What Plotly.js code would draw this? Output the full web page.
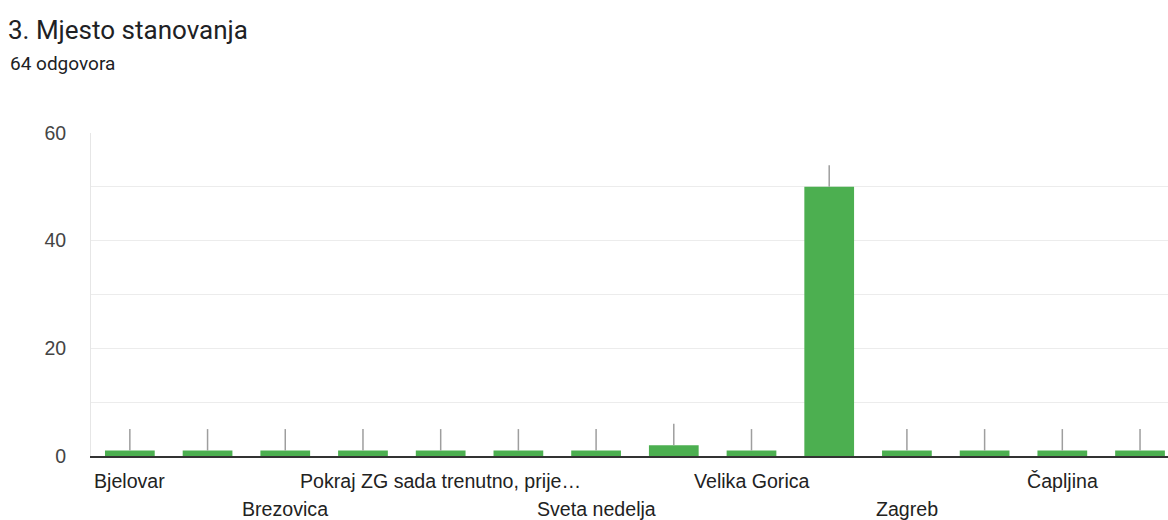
<!DOCTYPE html>
<html>
<head>
<meta charset="utf-8">
<script src="https://cdn.plot.ly/plotly-3.0.1.min.js"></script>
<style>html,body{margin:0;padding:0;background:#fff;}#chart{width:1168px;height:520px;}</style>
</head>
<body>
<div id="chart"></div>
<script>
// Categories (hidden labels unknown in reference; only alternate labels are displayed)
const categories = [
  "Bjelovar", "Bjelovar ", "Brezovica", "Ivanić-Grad",
  "Pokraj ZG sada trenutno, prije…", "Samobor", "Sveta nedelja", "Sveta Nedelja",
  "Velika Gorica", "Velika Gorica ", "Zagreb", "Zaprešić", "Čapljina", "Đakovo"
];
const values = [1, 1, 1, 1, 1, 1, 1, 2, 1, 50, 1, 1, 1, 1];
const stems = [4, 4, 4, 4, 4, 4, 4, 4, 4, 4, 4, 4, 4, 4];
const shownLabels = ["Bjelovar", "Brezovica", "Pokraj ZG sada trenutno, prije…", "Sveta nedelja", "Velika Gorica", "Zagreb", "Čapljina"];
const yTickVals = [0, 10, 20, 30, 40, 50, 60];
const yTickText = ["0", "", "20", "", "40", "", "60"];
const title = "3. Mjesto stanovanja";
const subtitle = "64 odgovora";

const font = "Roboto, Arial, sans-serif";
const axisFont = "'Liberation Sans', Arial, sans-serif";
const annotations = shownLabels.map((lab, i) => ({
  x: lab, xref: "x", y: 0, yref: "paper",
  yshift: (i % 2 === 0) ? -25 : -53,
  text: lab, showarrow: false, xanchor: "center", yanchor: "middle",
  font: {family: axisFont, size: 19.6, color: "#222"}
}));
annotations.push({
  text: subtitle, xref: "paper", x: (8 - 91) / 1077, xanchor: "left",
  yref: "paper", y: 1 + (133 - 64) / 323, yanchor: "middle",
  showarrow: false, font: {family: font, size: 19, color: "#202124"}
});

const trace = {
  type: "bar", x: categories, y: values,
  marker: {color: "#4caf50"}, width: 0.64,
  error_y: {type: "data", symmetric: false, array: stems, arrayminus: values.map(() => 0),
            color: "#9e9e9e", thickness: 1.5, width: 0},
  hoverinfo: "x+y"
};

const layout = {
  width: 1168, height: 520,
  margin: {l: 91, r: 0, t: 133, b: 64},
  paper_bgcolor: "#fff", plot_bgcolor: "#fff",
  showlegend: false,
  title: {text: title, x: 8 / 1168, xref: "container", xanchor: "left",
          y: 1 - 30 / 520, yref: "container", yanchor: "middle",
          font: {family: font, size: 26, color: "#202124"}},
  xaxis: {type: "category", range: [-0.5, 13.36], showticklabels: false,
          showline: true, linecolor: "#333", linewidth: 2, showgrid: false, ticks: "", fixedrange: true},
  yaxis: {range: [0, 60], tickvals: yTickVals, ticktext: yTickText,
          showgrid: true, gridcolor: "#ececec", gridwidth: 1, zeroline: false,
          showline: true, linecolor: "#e6e6e6", linewidth: 1, ticks: "",
          ticklabelstandoff: 20,
          tickfont: {family: axisFont, size: 19.5, color: "#444"}},
  annotations: annotations
};

Plotly.newPlot("chart", [trace], layout, {displayModeBar: false});
</script>
</body>
</html>
